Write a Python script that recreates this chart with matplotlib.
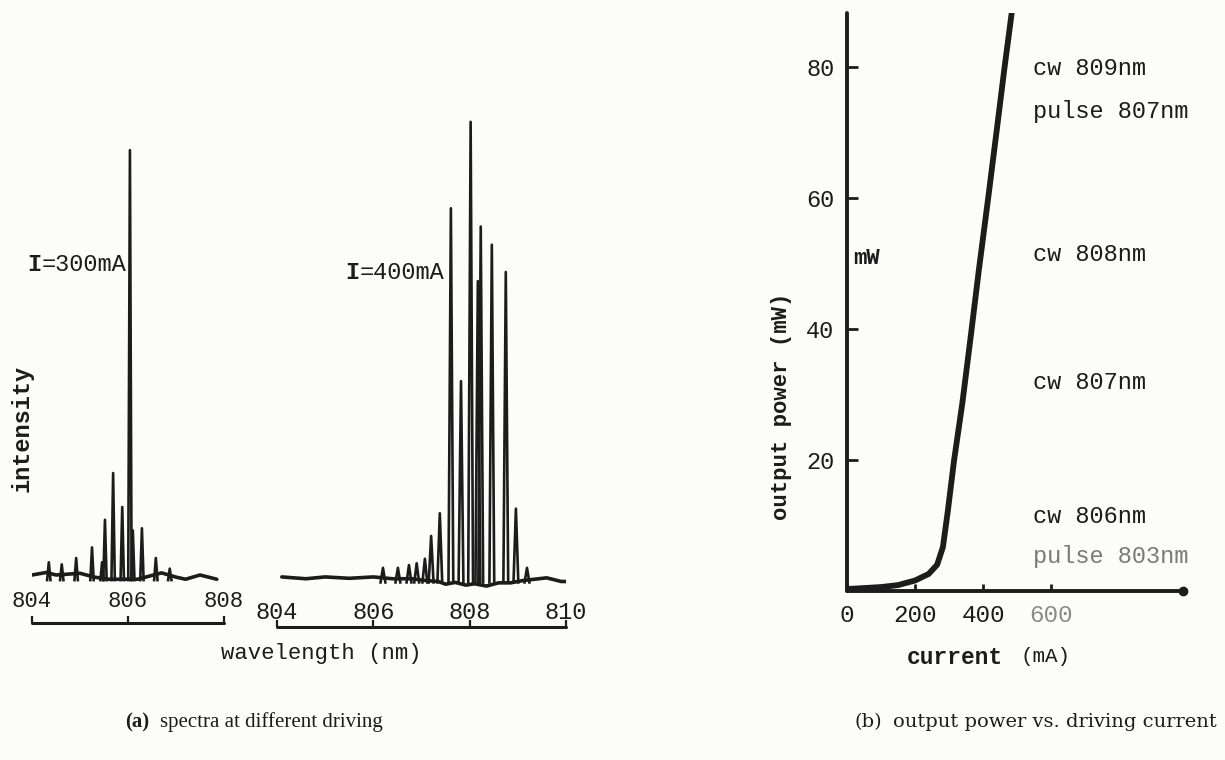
import numpy as np
import matplotlib.pyplot as plt

plt.rcParams['font.family'] = ['Liberation Mono', 'DejaVu Sans Mono']
ink = '#1c1c1c'

# (a) spectrum at I=300mA : peak wavelengths (nm) and relative heights
wl_300 = [804.35, 804.62, 804.92, 805.25, 805.46, 805.52, 805.69, 805.88,
          806.04, 806.10, 806.29, 806.58, 806.87]
pk_300 = [3, 2.5, 4, 6.5, 3, 13, 24, 16, 100, 10.5, 11, 4, 1.5]
base_wl_300 = [804.0, 804.3, 804.5, 805.0, 805.3, 805.6, 806.2, 806.7, 807.0, 807.2, 807.5, 807.85]
base_300 = [0, 0.6, 0, 0.4, -0.5, -1, -1, 0.5, -0.5, -1, 0, -1]

# (a) spectrum at I=400mA
wl_400 = [806.20, 806.51, 806.74, 806.90, 807.07, 807.20, 807.38, 807.61,
          807.82, 808.02, 808.17, 808.23, 808.46, 808.75, 808.96, 809.19]
pk_400 = [2, 2, 2.6, 3, 4, 9, 14, 81, 43, 100, 65, 77, 73, 67, 15, 2]
base_wl_400 = [804.1, 804.6, 805.0, 805.5, 806.0, 806.4, 806.8, 807.1, 807.35, 807.5, 807.7,
               807.92, 808.1, 808.35, 808.6, 808.85, 809.1, 809.35, 809.6, 809.9, 810.2, 810.45]
base_400 = [0, -0.4, 0, -0.3, 0, -0.4, -0.4, -0.8, -1, -1.6, -1.2, -1.8, -1.5, -2, -1.3, -1.3,
            -0.8, -0.5, -0.2, -1, -1, -2]

# (b) output power vs current
current = [0, 100, 150, 200, 240, 265, 282, 296, 315, 339, 363, 388, 416, 440, 464, 484]
power = [0.3, 0.6, 0.9, 1.6, 2.6, 4.0, 6.7, 12.0, 20.0, 28.6, 38.5, 49.1, 60.3, 70.2, 80.2, 88.1]

line_labels = ['cw 809nm', 'pulse 807nm', 'cw 808nm', 'cw 807nm', 'cw 806nm', 'pulse 803nm']
label_levels = [79.8, 73.1, 51.3, 31.8, 11.3, 5.2]

W, H = 1225, 760
fig = plt.figure(figsize=(W / 100, H / 100), dpi=100, facecolor='#fcfcfb')


def box(x0, y0, x1, y1):
    # pixel box (top-left origin) -> figure fraction
    return [x0 / W, 1 - y1 / H, (x1 - x0) / W, (y1 - y0) / H]


def draw_spectrum(ax, bx, by, px, ph, half):
    ax.plot(bx, by, color=ink, lw=2.6, solid_capstyle='round')
    for p, h in zip(px, ph):
        ax.plot([p - half, p, p + half], [-1.2, h, -1.2], color=ink, lw=1.9,
                solid_joinstyle='round')


ax1 = fig.add_axes(box(32, 140, 224, 623))
ax2 = fig.add_axes(box(277, 115, 566, 627))
draw_spectrum(ax1, base_wl_300, base_300, wl_300, pk_300, 0.035)
draw_spectrum(ax2, base_wl_400, base_400, wl_400, pk_400, 0.05)
ax1.set_ylim(-11.3, 102.4)
ax2.set_ylim(-11, 101.5)
for ax, hi, ticks, pad, fs in [(ax1, 808, [804, 806, 808], -23, 16),
                               (ax2, 810, [804, 806, 808, 810], -19, 17)]:
    ax.set_xlim(804, hi)
    ax.set_xticks(ticks)
    ax.set_yticks([])
    for s in ['left', 'right', 'top']:
        ax.spines[s].set_visible(False)
    ax.spines['bottom'].set_linewidth(2.2)
    ax.spines['bottom'].set_color(ink)
    ax.spines['bottom'].set_capstyle('round')
    ax.tick_params(axis='x', direction='in', length=5, width=1.6, pad=pad,
                   labelsize=fs, colors=ink)
    ax.patch.set_alpha(0)

for lab, x, y in [('=300mA', 27, 265), ('=400mA', 345, 273)]:
    fig.text(x / W, 1 - y / H, 'I', fontsize=17, fontweight='bold', color=ink, va='center')
    fig.text(x / W + 14.2 / W, 1 - y / H, lab, fontsize=17, color=ink, va='center')

fig.text(22 / W, 1 - 428 / H, 'intensity', rotation=90, ha='center', va='center',
         fontsize=17, fontweight='bold', color=ink)
fig.text(321 / W, 1 - 653 / H, 'wavelength (nm)', ha='center', va='center',
         fontsize=16, color=ink)

# (b)
ax3 = fig.add_axes(box(847, 13, 1183, 591))
ax3.plot(current, power, color=ink, lw=4.2, solid_capstyle='round')
ax3.set_xlim(0, 988)
ax3.set_ylim(0, 88.2)
for s in ['right', 'top']:
    ax3.spines[s].set_visible(False)
for s in ['left', 'bottom']:
    ax3.spines[s].set_linewidth(2.8)
    ax3.spines[s].set_color(ink)
    ax3.spines[s].set_capstyle('round')
ax3.plot([988], [0], 'o', ms=6, color=ink, clip_on=False)
ax3.set_yticks([20, 40, 60, 80])
ax3.set_xticks([0, 200, 400, 600])
ax3.tick_params(axis='y', direction='in', length=8, width=2, pad=9, labelsize=17, colors=ink)
ax3.tick_params(axis='x', direction='in', length=5, width=2, pad=9, labelsize=17.5, colors=ink)
ax3.get_xticklabels()[3].set_color('#8a8a8a')
ax3.patch.set_alpha(0)
ax3.set_ylabel('output power (mW)', fontsize=16, fontweight='bold', color=ink)
ax3.yaxis.set_label_coords(-0.164, 0.32)

for txt, lvl in zip(line_labels, label_levels):
    ax3.text(547, lvl, txt, fontsize=17, color='#7a7a7a' if txt == 'pulse 803nm' else ink,
             va='center', ha='left')
ax3.text(18, 50.8, 'mW', fontsize=16, fontweight='bold', color=ink, va='center')

fig.text(907 / W, 1 - 657 / H, 'current', fontsize=16.5, fontweight='bold', color=ink, va='center')
fig.text(1020 / W, 1 - 657 / H, '(mA)', fontsize=15, color=ink, va='center')

# captions
fig.text(125 / W, 1 - 722 / H, '(a)', fontfamily='Liberation Serif', fontsize=15,
         fontweight='bold', color=ink, va='center')
fig.text(160 / W, 1 - 722 / H, 'spectra at different driving', fontfamily='Liberation Serif',
         fontsize=15, color=ink, va='center')
fig.text(855 / W, 1 - 722 / H, '(b)', fontfamily='DejaVu Serif', fontsize=14,
         color=ink, va='center')
fig.text(893 / W, 1 - 722 / H, 'output power vs. driving current', fontfamily='DejaVu Serif',
         fontsize=14, color=ink, va='center')

fig.savefig('out.png', dpi=100, facecolor=fig.get_facecolor())
